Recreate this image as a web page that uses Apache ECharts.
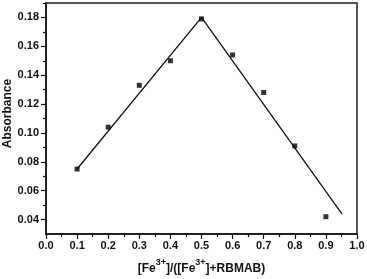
<!DOCTYPE html>
<html>
<head>
<meta charset="utf-8">
<script src="https://cdn.jsdelivr.net/npm/echarts@6/dist/echarts.min.js"></script>
<style>html,body{margin:0;padding:0;background:#fff}#c{width:367px;height:279px}</style>
</head>
<body>
<div id="c"></div>
<script>
// Data
var moleFraction = [0.1, 0.2, 0.3, 0.4, 0.5, 0.6, 0.7, 0.8, 0.9];
var absorbance = [0.075, 0.104, 0.133, 0.150, 0.179, 0.154, 0.128, 0.091, 0.042];
var fitX = [0.1, 0.5, 0.952];
var fitY = [0.075, 0.180, 0.0437];
var yLabelValues = [0.04, 0.06, 0.08, 0.10, 0.12, 0.14, 0.16, 0.18];
var yMinorValues = [0.05, 0.07, 0.09, 0.11, 0.13, 0.15, 0.17, 0.19];

var chart = echarts.init(document.getElementById('c'));
var font = 'Liberation Sans, Arial, sans-serif';
chart.setOption({
  animation: false,
  backgroundColor: '#fff',
  grid: { left: 46, right: 10, top: 3, bottom: 45, show: true, borderColor: '#222', borderWidth: 1.5,
    backgroundColor: 'transparent', containLabel: false, outerBoundsMode: 'none' },
  xAxis: {
    type: 'value', min: 0, max: 1, interval: 0.1,
    axisLine: { show: true, lineStyle: { color: '#111', width: 1.5 } },
    axisTick: { show: true, length: 5, lineStyle: { color: '#111', width: 1.2 } },
    minorTick: { show: true, splitNumber: 2, length: 3, lineStyle: { color: '#111', width: 1.2 } },
    splitLine: { show: false },
    axisLabel: { color: '#111', fontFamily: font, fontWeight: 'bold', fontSize: 11, margin: 6,
      formatter: function (v) { return v.toFixed(1); } },
    name: '{b|[Fe}{s|3+}{b|]/([Fe}{s|3+}{b|]+RBMAB)}',
    nameLocation: 'middle', nameGap: 24, nameMoveOverlap: false,
    nameTextStyle: {
      rich: {
        b: { fontFamily: font, fontWeight: 'bold', fontSize: 12, color: '#111', lineHeight: 17, verticalAlign: 'bottom' },
        s: { fontFamily: font, fontWeight: 'bold', fontSize: 9, color: '#111', lineHeight: 17, verticalAlign: 'top' }
      }
    }
  },
  yAxis: [{
    type: 'value', min: 0.03, max: 0.19, position: 'left',
    axisLine: { show: true, lineStyle: { color: '#111', width: 1.5 } },
    axisTick: { show: true, length: 5, customValues: yLabelValues, lineStyle: { color: '#111', width: 1.2 } },
    splitLine: { show: false },
    axisLabel: { color: '#111', fontFamily: font, fontWeight: 'bold', fontSize: 11, margin: 7,
      customValues: yLabelValues,
      formatter: function (v) { return v.toFixed(2); } },
    name: 'Absorbance', nameLocation: 'middle', nameGap: 32, nameMoveOverlap: false,
    nameTextStyle: { fontFamily: font, fontWeight: 'bold', fontSize: 12, color: '#111', padding: [0, 0, 0, 10] }
  }, {
    type: 'value', min: 0.03, max: 0.19, position: 'left', offset: 0,
    axisLine: { show: false },
    axisTick: { show: true, length: 3, customValues: yMinorValues, lineStyle: { color: '#111', width: 1.2 } },
    axisLabel: { show: false },
    splitLine: { show: false }
  }],
  series: [{
    type: 'line',
    data: fitX.map(function (x, i) { return [x, fitY[i]]; }),
    showSymbol: false, symbol: 'none',
    lineStyle: { color: '#111', width: 1.3 },
    z: 2
  }, {
    type: 'scatter',
    data: moleFraction.map(function (x, i) { return [x, absorbance[i]]; }),
    symbol: 'rect', symbolSize: 5,
    itemStyle: { color: '#000' },
    z: 3
  }]
});
</script>
</body>
</html>
